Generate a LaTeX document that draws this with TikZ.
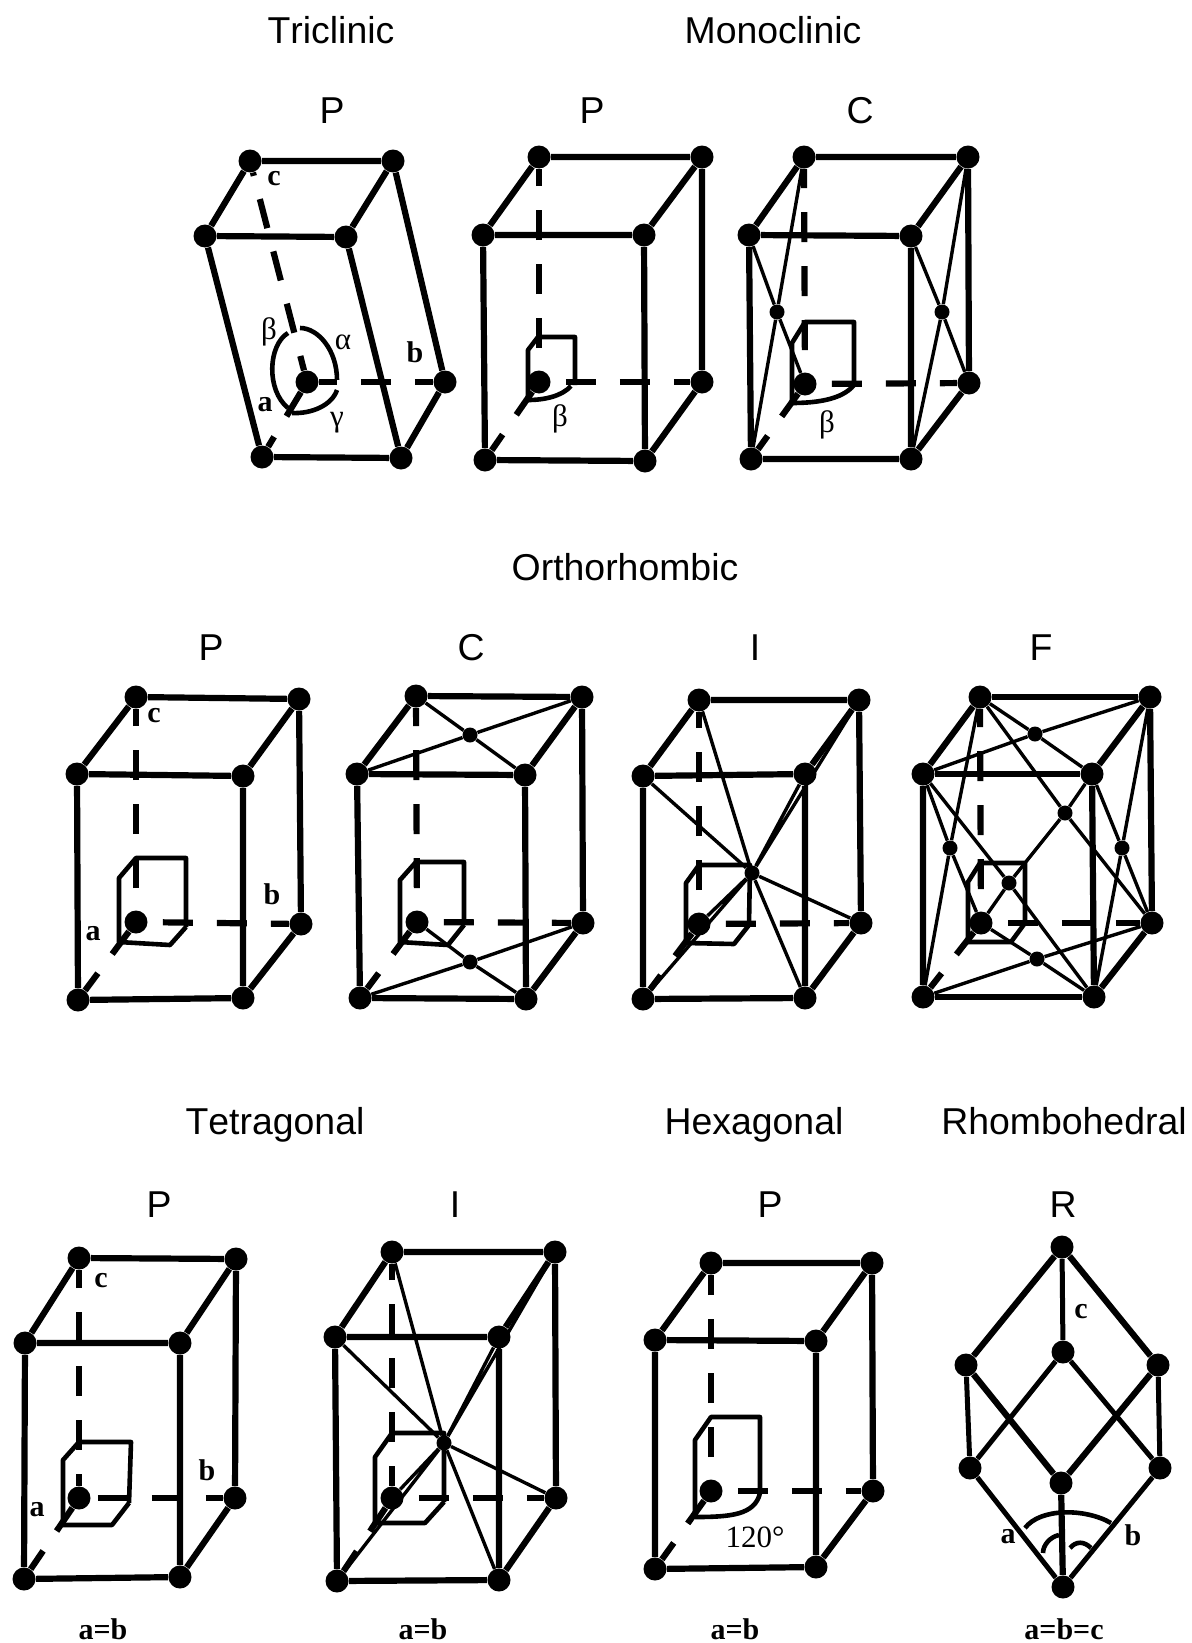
\documentclass[tikz,border=0pt]{standalone}
\usepackage{fontspec}
\setmainfont[Kerning=Off]{Liberation Sans}
\newfontfamily\serifface{Liberation Serif}
\newcommand{\latcell}[9]{%
\node[atom] (#1btl) at (#2) {};\node[atom] (#1btr) at (#3) {};
\node[atom] (#1ftl) at (#4) {};\node[atom] (#1ftr) at (#5) {};
\node[atom] (#1fbl) at (#6) {};\node[atom] (#1fbr) at (#7) {};
\node[atom] (#1o) at (#8) {};\node[atom] (#1bbr) at (#9) {};
\draw[edge] (#1btl)--(#1btr) (#1ftl)--(#1ftr) (#1fbl)--(#1fbr);
\draw[edge] (#1btl)--(#1ftl) (#1btr)--(#1ftr) (#1bbr)--(#1fbr);
\draw[edge] (#1ftl)--(#1fbl) (#1ftr)--(#1fbr) (#1btr)--(#1bbr);
}
\tikzset{
atom/.style={circle,fill=black,inner sep=0pt,minimum size=11.5pt},
faceatom/.style={circle,fill=black,inner sep=0pt,minimum size=7.5pt},
edge/.style={line width=3.1pt},
thinedge/.style={line width=1.7pt},
midedge/.style={line width=2.5pt},
anglebox/.style={line width=2.3pt,line join=round},
caxis/.style={line width=3.1pt,dash pattern=on 15pt off 12pt,dash phase=16pt},
baxis/.style={line width=3.1pt,dash pattern=on 15pt off 12pt,dash phase=19.5pt},
aaxis/.style={line width=3.1pt,dash pattern=on 16pt off 12pt,dash phase=2pt},
head/.style={font=\fontsize{18.7}{20}\selectfont,text height=13.4pt,text depth=0pt},
axlabel/.style={font=\serifface\bfseries\fontsize{15}{17}\selectfont,inner sep=0pt},
anglabel/.style={font=\serifface\fontsize{15.5}{17}\selectfont},
}
\begin{document}
\begin{tikzpicture}[x=.5pt,y=-.5pt]
\useasboundingbox (0,0) rectangle (1192,1643);
\node[head] (triTitle) at (331,30) {Triclinic};
\node[head] (monoTitle) at (773,30) {Monoclinic};
\node[head] (orthoTitle) at (625,567) {Orthorhombic};
\node[head] (tetTitle) at (275,1121) {Tetragonal};
\node[head] (hexTitle) at (754,1121) {Hexagonal};
\node[head] (rhoTitle) at (1064,1121) {Rhombohedral};
\node[head] (triP) at (332,110) {P};
\node[head] (monoP) at (592,110) {P};
\node[head] (monoC) at (860,110) {C};
\node[head] (orthoP) at (211,647) {P};
\node[head] (orthoC) at (471,647) {C};
\node[head] (orthoI) at (755,647) {I};
\node[head] (orthoF) at (1041,647) {F};
\node[head] (tetP) at (159,1204) {P};
\node[head] (tetI) at (455,1204) {I};
\node[head] (hexP) at (770,1204) {P};
\node[head] (rhoR) at (1063,1204) {R};

\latcell{tp}{250,161}{393,161}{205,236}{346,237}{262,457}{401,458}{307,382}{445,382}
\draw[caxis,dash phase=7.5pt] (tpo)--(tpbtl);
\draw[baxis,dash phase=6pt] (tpo)--(tpbbr);
\draw[aaxis] (tpo)--(tpfbl);
\draw[anglebox] (288,333) .. controls (268,345) and (266,390) .. (288,408);
\draw[anglebox] (300,328) .. controls (318,328) and (337,350) .. (337,380);
\draw[anglebox] (337,390) .. controls (332,405) and (312,414) .. (292,413);
\node[anglabel] (tpBeta) at (269,332) {β};
\node[anglabel] (tpAlpha) at (343,342) {α};
\node[anglabel] (tpGamma) at (337,423) {γ};
\node[axlabel] (tpa) at (265,405) {a};
\node[axlabel] (tpb) at (415,352) {b};
\node[axlabel] (tpc) at (274,179) {c};

\latcell{mp}{539,157}{702,157}{483,235}{644,235}{485,460}{645,461}{539,382}{702,382}
\draw[caxis] (mpo)--(mpbtl);
\draw[baxis] (mpo)--(mpbbr);
\draw[aaxis] (mpo)--(mpfbl);
\draw[anglebox] (528,400)--(528,350)--(538,337)--(575,337)--(575,385);
\draw[anglebox] (528,400) .. controls (545,400) and (562,396) .. (571,386);
\node[anglabel] (mpBeta) at (560,419) {β};

\latcell{mc}{804,157}{968,157}{749,235}{911,236}{751,459}{911,459}{805,384}{969,383}
\draw[caxis] (mco)--(mcbtl);
\draw[baxis] (mco)--(mcbbr);
\draw[aaxis] (mco)--(mcfbl);
\node[faceatom] (mcl) at (777,312) {};
\node[faceatom] (mcr) at (942,312) {};
\draw[thinedge] (mcftl)--(mcl)--(mco) (mcbtl)--(mcl)--(mcfbl);
\draw[thinedge] (mcftr)--(mcr)--(mcbbr) (mcbtr)--(mcr)--(mcfbr);
\draw[anglebox] (792,403)--(792,343)--(805,322)--(854,322)--(854,385);
\draw[anglebox] (792,403) .. controls (815,403) and (842,400) .. (854,385);
\node[anglabel] (mcBeta) at (827,425) {β};

\latcell{op}{136,697}{299,699}{77,774}{243,776}{78,1000}{243,998}{136,922}{301,924}
\draw[caxis] (opo)--(opbtl);
\draw[baxis] (opo)--(opbbr);
\draw[aaxis] (opo)--(opfbl);
\draw[anglebox] (186,927)--(186,858)--(136,858)--(119,878)--(119,942)--(170,945)--(186,927);
\node[axlabel] (opa) at (93,934) {a};
\node[axlabel] (opb) at (272,894) {b};
\node[axlabel] (opc) at (154,716) {c};

\latcell{oc}{416,696}{582,697}{357,774}{525,775}{360,998}{526,999}{417,922}{583,923}
\draw[caxis] (oco)--(ocbtl);
\draw[baxis] (oco)--(ocbbr);
\draw[aaxis] (oco)--(ocfbl);
\node[faceatom] (oct) at (470,735) {};
\node[faceatom] (ocb) at (470,962) {};
\draw[thinedge] (ocbtl)--(oct)--(ocftr) (ocbtr)--(oct)--(ocftl);
\draw[thinedge] (oco)--(ocb)--(ocfbr) (ocbbr)--(ocb)--(ocfbl);
\draw[anglebox] (464,925)--(464,862)--(416,862)--(400,880)--(400,942)--(448,945)--(464,925);

\latcell{oi}{699,700}{859,700}{643,776}{805,774}{643,999}{805,998}{699,924}{861,923}
\draw[caxis] (oio)--(oibtl);
\draw[baxis] (oio)--(oibbr);
\draw[aaxis] (oio)--(oifbl);
\node[faceatom] (oim) at (752,873) {};
\draw[thinedge] (oiftl)--(oim)--(oibbr) (oibtl)--(oim)--(oifbr);
\draw[thinedge] (oibtr)--(oim)--(oifbl) (oiftr)--(oim)--(oio);
\draw[anglebox] (749,925)--(750,865)--(699,865)--(686,883)--(686,943)--(734,944)--(749,925);

\latcell{of}{980,697}{1150,697}{923,774}{1092,774}{923,997}{1094,997}{981,923}{1152,923}
\draw[caxis] (ofo)--(ofbtl);
\draw[baxis] (ofo)--(ofbbr);
\draw[aaxis] (ofo)--(offbl);
\node[faceatom] (oft) at (1035,734) {};
\node[faceatom] (ofb) at (1037,959) {};
\node[faceatom] (ofl) at (950,848) {};
\node[faceatom] (ofr) at (1122,848) {};
\node[faceatom] (off) at (1009,883) {};
\node[faceatom] (ofk) at (1065,813) {};
\draw[thinedge] (ofbtl)--(oft)--(offtr) (ofbtr)--(oft)--(offtl);
\draw[thinedge] (ofo)--(ofb)--(offbr) (ofbbr)--(ofb)--(offbl);
\draw[thinedge] (offtl)--(ofl)--(ofo) (ofbtl)--(ofl)--(offbl);
\draw[thinedge] (offtr)--(ofr)--(ofbbr) (ofbtr)--(ofr)--(offbr);
\draw[thinedge] (offtl)--(off)--(offbr) (ofbtl)--(ofk)--(ofbbr);
\draw[thinedge] (offtr)--(ofk)--(off)--(ofo);
\draw[anglebox] (1025,923)--(1025,863)--(980,863)--(968,882)--(968,942)--(1011,942)--(1025,923);

\latcell{ttp}{79,1258}{236,1259}{25,1343}{180,1343}{24,1579}{180,1577}{79,1498}{235,1498}
\draw[caxis,dash phase=9pt] (ttpo)--(ttpbtl);
\draw[baxis,dash phase=23.5pt] (ttpo)--(ttpbbr);
\draw[aaxis] (ttpo)--(ttpfbl);
\draw[anglebox] (129,1503)--(131,1442)--(79,1442)--(63,1460)--(63,1525)--(112,1525)--(129,1503);
\node[axlabel] (ttpa) at (37,1510) {a};
\node[axlabel] (ttpb) at (207,1470) {b};
\node[axlabel] (ttpc) at (101,1281) {c};
\node[axlabel] (ttpEq) at (103,1629) {a=b};

\latcell{tti}{392,1252}{555,1252}{335,1337}{499,1337}{337,1581}{499,1580}{392,1498}{556,1498}
\draw[caxis,dash phase=5pt] (ttio)--(ttibtl);
\draw[baxis] (ttio)--(ttibbr);
\draw[aaxis] (ttio)--(ttifbl);
\node[faceatom] (ttim) at (444,1443) {};
\draw[thinedge] (ttiftl)--(ttim)--(ttibbr) (ttibtl)--(ttim)--(ttifbr);
\draw[thinedge] (ttibtr)--(ttim)--(ttifbl) (ttiftr)--(ttim)--(ttio);
\draw[anglebox] (444,1502)--(444,1433)--(392,1433)--(375,1457)--(375,1523)--(425,1523)--(444,1502);
\node[axlabel] (ttiEq) at (423,1629) {a=b};

\latcell{hx}{711,1263}{872,1263}{655,1340}{816,1341}{655,1569}{816,1567}{711,1491}{873,1491}
\draw[caxis] (hxo)--(hxbtl);
\draw[baxis] (hxo)--(hxbbr);
\draw[aaxis] (hxo)--(hxfbl);
\draw[anglebox] (695,1517)--(695,1440)--(711,1417)--(760,1417)--(760,1493);
\draw[anglebox] (695,1517) .. controls (730,1517) and (755,1515) .. (760,1493);
\node[anglabel] (hxAng) at (755,1537) {120°};
\node[axlabel] (hxEq) at (735,1629) {a=b};

\node[atom] (rTop) at (1062,1247) {};
\node[atom] (rMid) at (1063,1352) {};
\node[atom] (rLU) at (966,1365) {};
\node[atom] (rRU) at (1158,1365) {};
\node[atom] (rLL) at (970,1468) {};
\node[atom] (rRL) at (1160,1468) {};
\node[atom] (rLow) at (1061,1483) {};
\node[atom] (rBot) at (1063,1587) {};
\draw[edge] (rTop)--(rLU) (rTop)--(rRU) (rLU)--(rLow) (rRU)--(rLow) (rLow)--(rBot);
\draw[midedge] (rTop)--(rMid) (rMid)--(rLL) (rMid)--(rRL) (rLU)--(rLL) (rRU)--(rRL) (rLL)--(rBot) (rRL)--(rBot);
\draw[anglebox] (1025,1528) .. controls (1040,1508) and (1085,1508) .. (1111,1523);
\draw[anglebox] (1043,1553) .. controls (1043,1545) and (1050,1537) .. (1059,1535);
\draw[anglebox] (1070,1548) .. controls (1076,1541) and (1084,1541) .. (1091,1548);
\node[axlabel] (rA) at (1008,1537) {a};
\node[axlabel] (rB) at (1133,1535) {b};
\node[axlabel] (rC) at (1081,1312) {c};
\node[axlabel] (rEq) at (1064,1629) {a=b=c};
\end{tikzpicture}
\end{document}
